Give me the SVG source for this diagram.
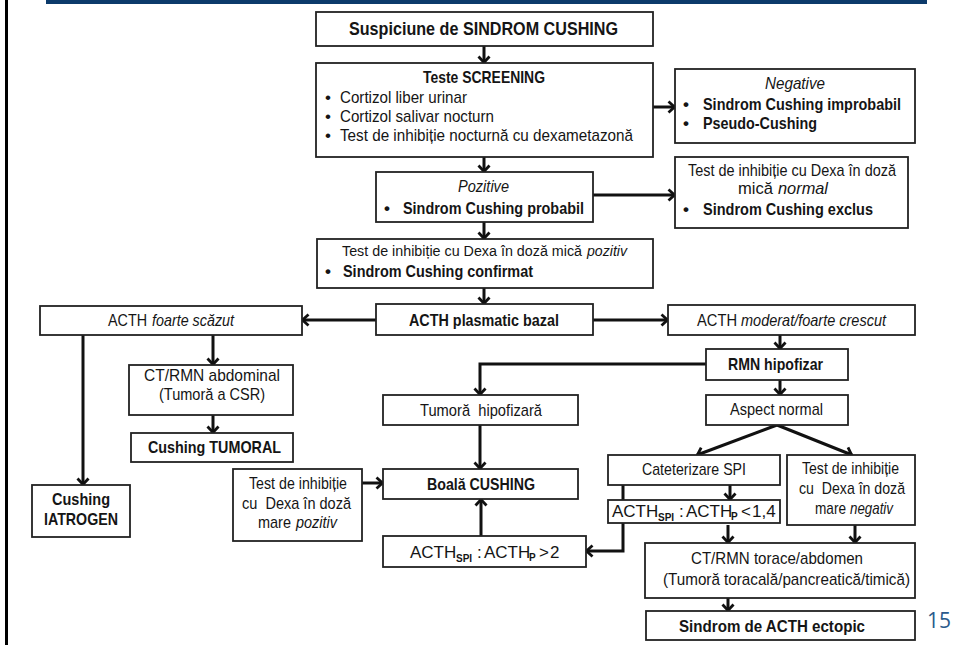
<svg xmlns="http://www.w3.org/2000/svg" width="960" height="645" viewBox="0 0 960 645">
  <style>
    .box { fill: #ffffff; stroke: #222222; stroke-width: 1.8; }
    .t { font-family: "Liberation Sans Narrow", "Liberation Sans", Arial, sans-serif; font-size: 17px; fill: #151515; }
    .b { font-weight: bold; }
    .i { font-style: italic; }
    .sub { font-weight: bold; font-size: 10px; }
    .lnk { fill: none; stroke: #111111; stroke-width: 3; marker-end: url(#ah); }
    .pg { font-family: "Open Sans", "Liberation Sans", sans-serif; font-size: 21px; fill: #2a5a8c; }
  </style>
  <defs>
    <marker id="ah" markerUnits="userSpaceOnUse" markerWidth="16" markerHeight="16" viewBox="0 0 16 16" refX="12" refY="8" orient="auto">
      <path d="M5.5,2.5 L11.5,8 L5.5,13.5" fill="none" stroke="#111111" stroke-width="2.8"/>
    </marker>
  </defs>

  <!-- page frame -->
  <rect x="0" y="0" width="960" height="645" fill="#ffffff"/>
  <rect x="5" y="0" width="3" height="645" fill="#000000"/>
  <rect x="46" y="0" width="881" height="4" fill="#0c3a6b"/>

  <!-- connectors -->
  <g id="connectors">
    <path class="lnk" d="M484,46 V63"/>
    <path class="lnk" d="M484,157 V172"/>
    <path class="lnk" d="M653,107 H675"/>
    <path class="lnk" d="M593,195 H675"/>
    <path class="lnk" d="M484,222 V239"/>
    <path class="lnk" d="M484,288 V304"/>
    <path class="lnk" d="M376,320 H302"/>
    <path class="lnk" d="M593,320 H668"/>
    <path class="lnk" d="M83,335 V485"/>
    <path class="lnk" d="M213,335 V365"/>
    <path class="lnk" d="M213,415 V433"/>
    <path class="lnk" d="M780,335 V349"/>
    <path class="lnk" d="M780,380 V395"/>
    <path class="lnk" d="M706,364 H480 V395"/>
    <path class="lnk" d="M480,425 V469"/>
    <path class="lnk" d="M362,483 H383"/>
    <path class="lnk" d="M481,536 V499"/>
    <path class="lnk" d="M777,425 L697,455"/>
    <path class="lnk" d="M777,425 L852,455"/>
    <path class="lnk" d="M730,485 V500"/>
    <path class="lnk" d="M623,485 V551 H586"/>
    <path class="lnk" d="M728,525 V543"/>
    <path class="lnk" d="M855,525 V543"/>
    <path class="lnk" d="M728,598 V611"/>
  </g>

  <g id="suspiciune">
    <rect class="box" x="316" y="12" width="337" height="34"/>
    <text class="t b" x="349" y="35" style="font-size:18px" textLength="269" lengthAdjust="spacingAndGlyphs">Suspiciune de SINDROM CUSHING</text>
  </g>

  <g id="screening">
    <rect class="box" x="316" y="63" width="337" height="94"/>
    <text class="t b" x="423" y="83" textLength="122" lengthAdjust="spacingAndGlyphs">Teste SCREENING</text>
    <text class="t" x="325" y="103">•</text>
    <text class="t" x="340" y="103" textLength="127" lengthAdjust="spacingAndGlyphs">Cortizol liber urinar</text>
    <text class="t" x="325" y="122">•</text>
    <text class="t" x="340" y="122" textLength="154" lengthAdjust="spacingAndGlyphs">Cortizol salivar nocturn</text>
    <text class="t" x="325" y="141">•</text>
    <text class="t" x="340" y="141" textLength="293" lengthAdjust="spacingAndGlyphs">Test de inhibiție nocturnă cu dexametazonă</text>
  </g>

  <g id="negative">
    <rect class="box" x="675" y="69" width="240" height="74"/>
    <text class="t i" x="765" y="89" textLength="60" lengthAdjust="spacingAndGlyphs">Negative</text>
    <text class="t b" x="683" y="110">•</text>
    <text class="t b" x="703" y="110" textLength="198" lengthAdjust="spacingAndGlyphs">Sindrom Cushing improbabil</text>
    <text class="t b" x="683" y="129">•</text>
    <text class="t b" x="703" y="129" textLength="114" lengthAdjust="spacingAndGlyphs">Pseudo-Cushing</text>
  </g>

  <g id="pozitive">
    <rect class="box" x="376" y="172" width="217" height="50"/>
    <text class="t i" x="458" y="192" textLength="51" lengthAdjust="spacingAndGlyphs">Pozitive</text>
    <text class="t b" x="384" y="214">•</text>
    <text class="t b" x="403" y="214" textLength="181" lengthAdjust="spacingAndGlyphs">Sindrom Cushing probabil</text>
  </g>

  <g id="exclus">
    <rect class="box" x="675" y="157" width="233" height="71"/>
    <text class="t" x="688" y="176" textLength="208" lengthAdjust="spacingAndGlyphs">Test de inhibiție cu Dexa în doză</text>
    <text class="t" x="738" y="194" textLength="35" lengthAdjust="spacingAndGlyphs">mică</text>
    <text class="t i" x="778" y="194" textLength="50" lengthAdjust="spacingAndGlyphs">normal</text>
    <text class="t b" x="683" y="215">•</text>
    <text class="t b" x="703" y="215" textLength="170" lengthAdjust="spacingAndGlyphs">Sindrom Cushing exclus</text>
  </g>

  <g id="confirmat">
    <rect class="box" x="317" y="239" width="336" height="49"/>
    <text class="t" x="342" y="256" style="font-size:14px" textLength="240" lengthAdjust="spacingAndGlyphs">Test de inhibiție cu Dexa în doză mică</text>
    <text class="t i" x="587" y="256" style="font-size:14px" textLength="40" lengthAdjust="spacingAndGlyphs">pozitiv</text>
    <text class="t b" x="325" y="277">•</text>
    <text class="t b" x="343" y="277" textLength="190" lengthAdjust="spacingAndGlyphs">Sindrom Cushing confirmat</text>
  </g>

  <g id="acth-bazal">
    <rect class="box" x="376" y="304" width="217" height="31"/>
    <text class="t b" x="409" y="326" textLength="150" lengthAdjust="spacingAndGlyphs">ACTH plasmatic bazal</text>
  </g>

  <g id="acth-scazut">
    <rect class="box" x="40" y="306" width="262" height="29"/>
    <text class="t" x="108" y="326" textLength="39" lengthAdjust="spacingAndGlyphs">ACTH</text>
    <text class="t i" x="152" y="326" textLength="82" lengthAdjust="spacingAndGlyphs">foarte scăzut</text>
  </g>

  <g id="acth-crescut">
    <rect class="box" x="668" y="305" width="247" height="30"/>
    <text class="t" x="697" y="326" textLength="40" lengthAdjust="spacingAndGlyphs">ACTH</text>
    <text class="t i" x="741" y="326" textLength="145" lengthAdjust="spacingAndGlyphs">moderat/foarte crescut</text>
  </g>

  <g id="ct-abdominal">
    <rect class="box" x="129" y="365" width="164" height="50"/>
    <text class="t" x="144" y="381" textLength="136" lengthAdjust="spacingAndGlyphs">CT/RMN abdominal</text>
    <text class="t" x="159" y="400" textLength="106" lengthAdjust="spacingAndGlyphs">(Tumoră a CSR)</text>
  </g>

  <g id="cushing-tumoral">
    <rect class="box" x="131" y="433" width="162" height="29"/>
    <text class="t b" x="148" y="453" textLength="133" lengthAdjust="spacingAndGlyphs">Cushing TUMORAL</text>
  </g>

  <g id="cushing-iatrogen">
    <rect class="box" x="32" y="485" width="98" height="52"/>
    <text class="t b" x="52" y="505" textLength="58" lengthAdjust="spacingAndGlyphs">Cushing</text>
    <text class="t b" x="44" y="525" textLength="74" lengthAdjust="spacingAndGlyphs">IATROGEN</text>
  </g>

  <g id="rmn-hipofizar">
    <rect class="box" x="706" y="349" width="142" height="31"/>
    <text class="t b" x="728" y="370" textLength="95" lengthAdjust="spacingAndGlyphs">RMN hipofizar</text>
  </g>

  <g id="aspect-normal">
    <rect class="box" x="706" y="395" width="142" height="30"/>
    <text class="t" x="730" y="415" textLength="93" lengthAdjust="spacingAndGlyphs">Aspect normal</text>
  </g>

  <g id="tumora-hipofizara">
    <rect class="box" x="383" y="395" width="195" height="30"/>
    <text class="t" x="420" y="416" textLength="122" lengthAdjust="spacingAndGlyphs" xml:space="preserve">Tumoră  hipofizară</text>
  </g>

  <g id="boala-cushing">
    <rect class="box" x="383" y="469" width="195" height="30"/>
    <text class="t b" x="427" y="490" textLength="108" lengthAdjust="spacingAndGlyphs">Boală CUSHING</text>
  </g>

  <g id="test-doza-mare-pozitiv">
    <rect class="box" x="233" y="469" width="129" height="72"/>
    <text class="t" x="249" y="489" textLength="98" lengthAdjust="spacingAndGlyphs">Test de inhibiție</text>
    <text class="t" x="242" y="509" textLength="109" lengthAdjust="spacingAndGlyphs" xml:space="preserve">cu  Dexa în doză</text>
    <text class="t" x="258" y="528" textLength="33" lengthAdjust="spacingAndGlyphs">mare</text>
    <text class="t i" x="296" y="528" textLength="41" lengthAdjust="spacingAndGlyphs">pozitiv</text>
  </g>

  <g id="raport-peste-2">
    <rect class="box" x="383" y="536" width="203" height="31"/>
    <text class="t" y="558"><tspan x="410">ACTH</tspan><tspan class="sub" x="456" dy="4">SPI</tspan><tspan x="477" dy="-4">:</tspan><tspan x="484">ACTH</tspan><tspan class="sub" x="529" dy="3">P</tspan><tspan x="539" dy="-3">&gt;</tspan><tspan x="550">2</tspan></text>
  </g>

  <g id="cateterizare-spi">
    <rect class="box" x="608" y="455" width="172" height="30"/>
    <text class="t" x="642" y="475" textLength="104" lengthAdjust="spacingAndGlyphs">Cateterizare SPI</text>
  </g>

  <g id="test-doza-mare-negativ">
    <rect class="box" x="787" y="455" width="128" height="70"/>
    <text class="t" x="802" y="474" textLength="97" lengthAdjust="spacingAndGlyphs">Test de inhibiție</text>
    <text class="t" x="799" y="494" textLength="106" lengthAdjust="spacingAndGlyphs" xml:space="preserve">cu  Dexa în doză</text>
    <text class="t" x="815" y="514" textLength="31" lengthAdjust="spacingAndGlyphs">mare</text>
    <text class="t i" x="850" y="514" textLength="43" lengthAdjust="spacingAndGlyphs">negativ</text>
  </g>

  <g id="raport-sub-1-4">
    <rect class="box" x="608" y="500" width="172" height="23"/>
    <text class="t" y="517"><tspan x="612">ACTH</tspan><tspan class="sub" x="658" dy="4">SPI</tspan><tspan x="679" dy="-4">:</tspan><tspan x="686">ACTH</tspan><tspan class="sub" x="731" dy="3">P</tspan><tspan x="741" dy="-3">&lt;</tspan><tspan x="752">1,4</tspan></text>
  </g>

  <g id="ct-torace">
    <rect class="box" x="645" y="543" width="270" height="55"/>
    <text class="t" x="691" y="564" textLength="172" lengthAdjust="spacingAndGlyphs">CT/RMN torace/abdomen</text>
    <text class="t" x="663" y="585" textLength="247" lengthAdjust="spacingAndGlyphs">(Tumoră toracală/pancreatică/timică)</text>
  </g>

  <g id="acth-ectopic">
    <rect class="box" x="646" y="611" width="269" height="29"/>
    <text class="t b" x="679" y="632" textLength="186" lengthAdjust="spacingAndGlyphs">Sindrom de ACTH ectopic</text>
  </g>

  <text class="pg" x="927" y="628">15</text>
</svg>
